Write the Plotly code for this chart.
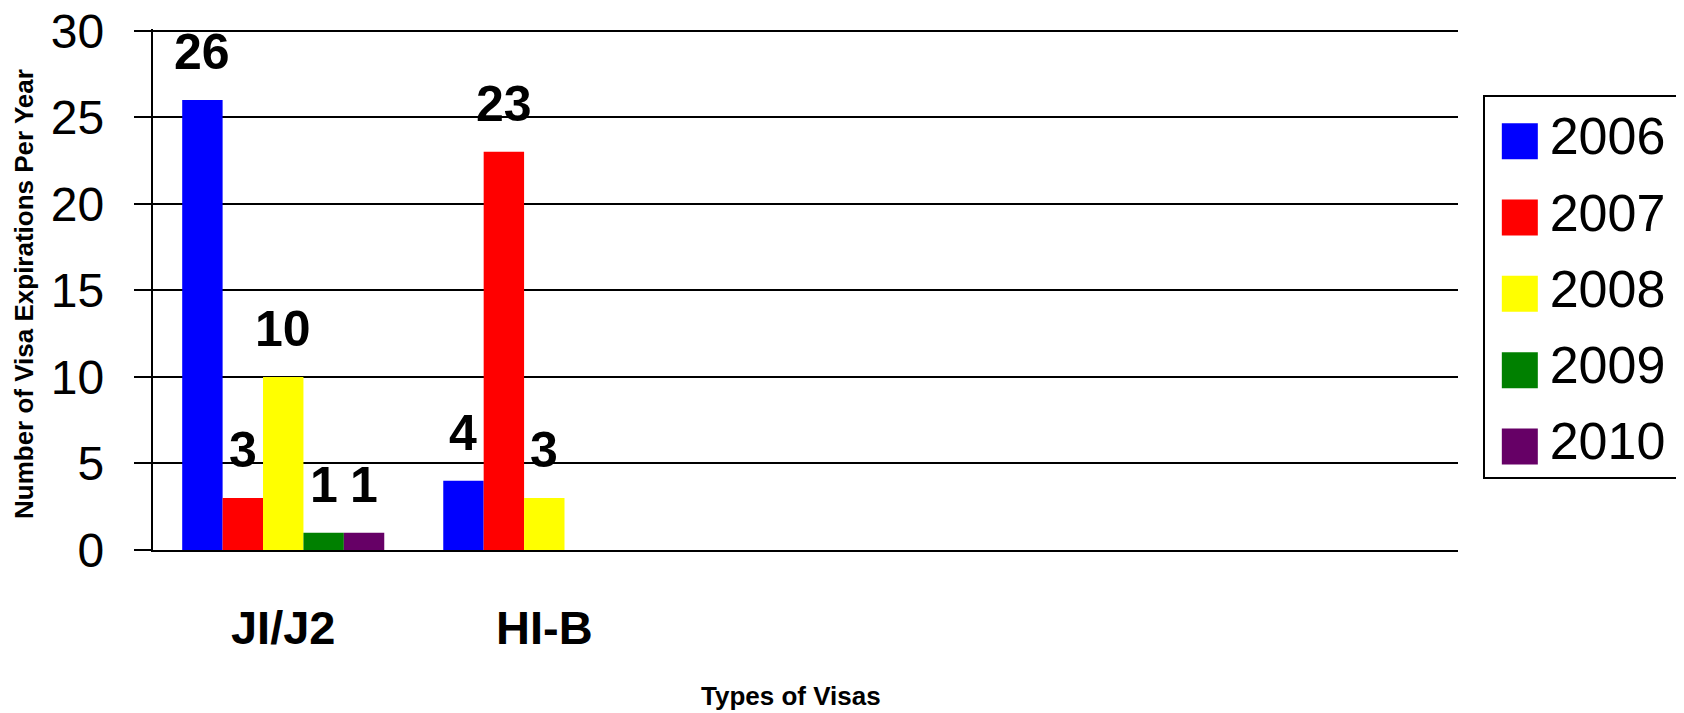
import plotly.graph_objects as go

# ---- data ----
categories = ["JI/J2", "HI-B"]
years = ["2006", "2007", "2008", "2009", "2010"]
colors = ["#0000FF", "#FF0000", "#FFFF00", "#008000", "#660066"]
values_2006 = [26, 4]
values_2007 = [3, 23]
values_2008 = [10, 3]
values_2009 = [1, None]
values_2010 = [1, None]
series = [values_2006, values_2007, values_2008, values_2009, values_2010]
y_ticks = [0, 5, 10, 15, 20, 25, 30]
n_slots = 5  # category slots on the axis (3 empty)
x_title = "Types of Visas"
y_title = "Number of Visa Expirations Per Year"

# page body has an 8px margin; figure sized to fit the 1684x713 window
OFF = 8
W, H = 1676, 705
FONT = "Liberation Sans, Arial, sans-serif"
BARGAP = 0.226


def px(x):
    return (x - OFF) / W


def py(y):
    return (H - (y - OFF)) / H


Y_TOP_PX, Y_ZERO_PX = 30.7, 550.0
unit_px = (Y_ZERO_PX - Y_TOP_PX) / 30
y_top_range = 30 + 2 / unit_px  # keep the 30 gridline 2px inside the plot

fig = go.Figure()
for name, vals, col in zip(years, series, colors):
    fig.add_trace(go.Bar(
        x=list(range(len(categories))), y=vals, name=name,
        marker=dict(color=col, line=dict(width=0)),
        showlegend=False,
    ))

# value labels above bars (from data)
n = len(years)
w = (1 - BARGAP) / n
for j, vals in enumerate(series):
    for i, v in enumerate(vals):
        if v is None:
            continue
        fig.add_annotation(
            x=i + (j - (n - 1) / 2) * w, y=v, xref="x", yref="y",
            text=f"<b>{v}</b>", showarrow=False, yanchor="bottom",
            yshift=18, font=dict(family=FONT, size=50, color="black"),
        )

# legend drawn as a small panel with large square swatches
fig.add_trace(go.Scatter(
    x=[0] * len(years), y=list(range(len(years))), mode="markers",
    marker=dict(symbol="square", size=36, color=colors, line=dict(width=0)),
    xaxis="x2", yaxis="y2", showlegend=False, hoverinfo="skip",
))
fig.add_trace(go.Scatter(
    x=[0.3] * len(years), y=list(range(len(years))), mode="text",
    text=years, textposition="middle right",
    textfont=dict(family=FONT, size=52, color="black"),
    xaxis="x2", yaxis="y2", showlegend=False, hoverinfo="skip",
))

# axis titles
fig.add_annotation(
    x=px(791), y=py(696), xref="paper", yref="paper",
    text=f"<b>{x_title}</b>", showarrow=False, yanchor="middle",
    font=dict(family=FONT, size=26, color="black"),
)
fig.add_annotation(
    x=px(24), y=py(294), xref="paper", yref="paper",
    text=f"<b>{y_title}</b>", showarrow=False, textangle=-90,
    xanchor="center", yanchor="middle",
    font=dict(family=FONT, size=26, color="black"),
)

fig.update_layout(
    width=W, height=H,
    margin=dict(l=0, r=0, t=0, b=0, autoexpand=False),
    paper_bgcolor="white", plot_bgcolor="white",
    barmode="group", bargap=BARGAP, bargroupgap=0,
    showlegend=False,
    font=dict(family=FONT, color="black"),
    xaxis=dict(
        domain=[px(152.7), px(1458)], automargin=False,
        range=[-0.5, n_slots - 0.5],
        tickmode="array", tickvals=list(range(len(categories))),
        ticktext=[f"<b>{c}</b>" for c in categories],
        tickfont=dict(family=FONT, size=47, color="black"),
        ticks="", ticklabelstandoff=36, ticklabeloverflow="allow",
        showline=True, linecolor="black", linewidth=2,
        showgrid=False, zeroline=False,
    ),
    yaxis=dict(
        domain=[py(Y_ZERO_PX), py(Y_TOP_PX - 2)], automargin=False,
        range=[0, y_top_range], tickmode="array", tickvals=y_ticks,
        tickfont=dict(family=FONT, size=48, color="black"),
        ticks="outside", ticklen=17, tickwidth=2, tickcolor="black",
        ticklabelstandoff=20, ticklabeloverflow="allow",
        showline=True, linecolor="black", linewidth=2,
        showgrid=True, gridcolor="black", gridwidth=2,
        zeroline=False,
    ),
    xaxis2=dict(
        domain=[px(1485), px(1681)], anchor="y2", range=[-0.35, 1.62],
        automargin=False,
        showgrid=False, zeroline=False, showticklabels=False, ticks="",
        showline=True, mirror=True, linecolor="black", linewidth=2,
        fixedrange=True,
    ),
    yaxis2=dict(
        domain=[py(477), py(97)], anchor="x2", range=[4.4, -0.58],
        automargin=False,
        showgrid=False, zeroline=False, showticklabels=False, ticks="",
        showline=True, mirror=True, linecolor="black", linewidth=2,
        fixedrange=True,
    ),
)

fig.write_html("out.html")
